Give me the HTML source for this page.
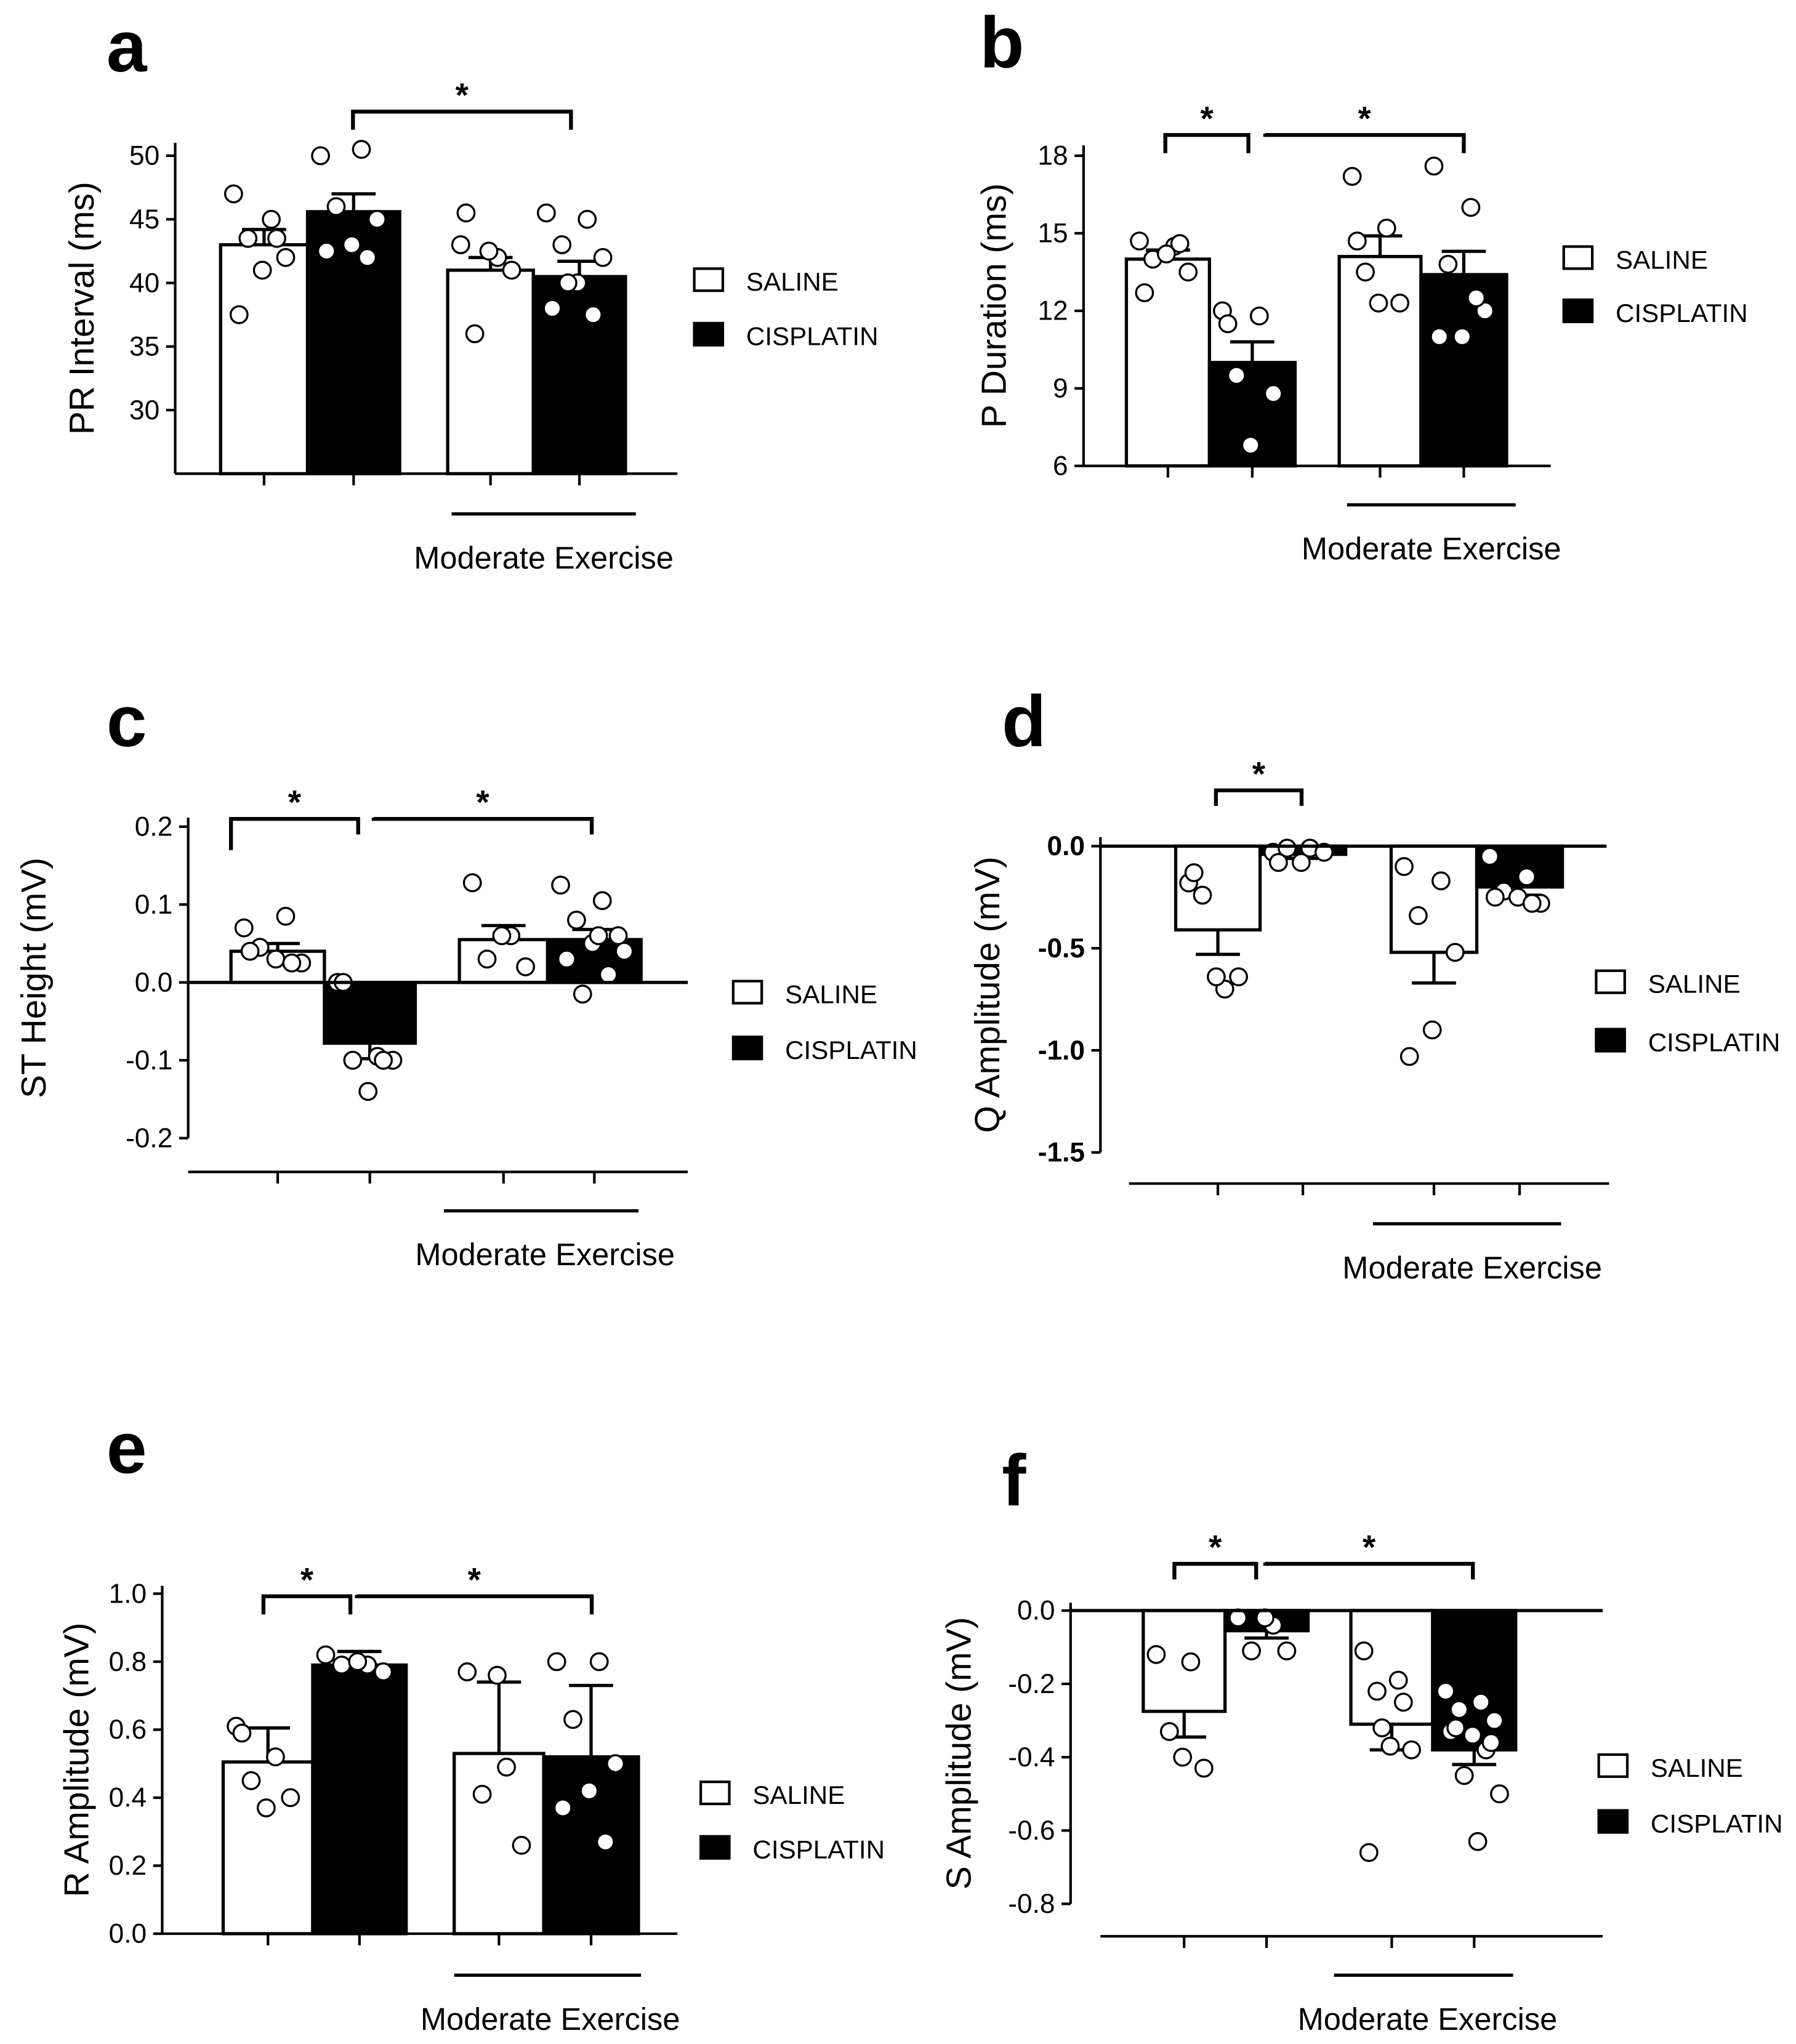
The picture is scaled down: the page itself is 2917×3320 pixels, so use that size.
<!DOCTYPE html>
<html><head><meta charset="utf-8"><style>
html,body{margin:0;padding:0;background:#fff;}
svg{display:block;font-family:"Liberation Sans","DejaVu Sans",sans-serif;}
</style></head><body>
<svg id="fig" width="2917" height="3320" viewBox="0 0 1384 1575" preserveAspectRatio="none" xmlns="http://www.w3.org/2000/svg"></svg>
<script>
// ---- data ----
const groups = ["SALINE","CISPLATIN","ME SALINE","ME CISPLATIN"];
const aMeans = [43, 45.6, 41, 40.5];
const aErr = [1.2, 1.4, 1.0, 1.2];
const aPts = [[47,45,43.5,42,41,37.5,43.5],[50,50.5,46,45,43,42.5,42],[43,42,36,41,42.5,45.5],[45.5,45,43,42,40,38,37.5,40]];
const aTicks = [30,35,40,45,50];
const bMeans = [14, 10, 14.1, 13.4];
const bErr = [0.35, 0.8, 0.8, 0.9];
const bPts = [[14.7,14.5,14,13.5,14.2,12.7,14.6],[12,11.8,9.5,8.8,6.8,11.5],[17.2,15.2,13.5,12.3,12.3,14.7],[17.6,16,13.8,12,11,11,12.5]];
const bTicks = [6,9,12,15,18];
const cMeans = [0.04, -0.078, 0.055, 0.055];
const cErr = [0.01, 0.02, 0.018, 0.013];
const cPts = [[0.07,0.085,0.045,0.025,0.03,0.04,0.025],[0.0,-0.095,-0.1,-0.1,-0.14,0.0,-0.1],[0.128,0.06,0.03,0.02,0.06],[0.125,0.105,0.08,0.06,0.05,0.03,0.01,-0.015,0.04,0.06]];
const cTicks = [-0.2,-0.1,0.0,0.1,0.2];
const dMeans = [-0.41, -0.04, -0.52, -0.2];
const dErr = [0.12, 0.02, 0.15, 0.04];
const dPts = [[-0.18,-0.7,-0.24,-0.64,-0.64,-0.13],[-0.03,-0.01,-0.01,-0.03,-0.08,-0.08],[-0.1,-0.17,-0.34,-0.52,-0.9,-1.03],[-0.05,-0.15,-0.22,-0.28,-0.25,-0.25,-0.28]];
const dTicks = [-1.5,-1.0,-0.5,0.0];
const eMeans = [0.505, 0.79, 0.53, 0.52];
const eErr = [0.1, 0.04, 0.21, 0.21];
const ePts = [[0.61,0.52,0.45,0.4,0.37,0.59],[0.82,0.79,0.79,0.77,0.8],[0.77,0.49,0.41,0.26,0.76],[0.8,0.8,0.63,0.5,0.42,0.37,0.27]];
const eTicks = [0.0,0.2,0.4,0.6,0.8,1.0];
const fMeans = [-0.275, -0.055, -0.31, -0.38];
const fErr = [0.07, 0.02, 0.07, 0.04];
const fPts = [[-0.12,-0.14,-0.33,-0.43,-0.4],[-0.02,-0.04,-0.11,-0.11,-0.02],[-0.11,-0.19,-0.22,-0.38,-0.37,-0.66,-0.25,-0.32],[-0.22,-0.25,-0.27,-0.3,-0.34,-0.33,-0.38,-0.45,-0.5,-0.63,-0.32,-0.36]];
const fTicks = [-0.8,-0.6,-0.4,-0.2,0.0];

const NS="http://www.w3.org/2000/svg";
const svg=document.getElementById('fig');
function mk(tag,attrs,parent,txt){const e=document.createElementNS(NS,tag);for(const k in attrs)e.setAttribute(k,attrs[k]);if(txt!==undefined)e.textContent=txt;(parent||svg).appendChild(e);return e;}

function panel(c){
  const g=mk('g',{});
  
  
  const y=v=>c.y0+(v-c.v0)*(c.y1-c.y0)/(c.v1-c.v0);
  const t=mk('text',{x:c.lx,y:c.ly,'font-size':56,'font-weight':'bold'},g,c.letter);
  
  const ya=mk('line',{x1:c.ax,x2:c.ax,y1:c.axTop,y2:c.axBot,stroke:'#000','stroke-width':2},g);
  
  c.ticks.forEach(v=>{
    mk('line',{x1:c.ax-7,x2:c.ax,y1:y(v),y2:y(v),stroke:'#000','stroke-width':2},g);
    const tl=mk('text',{x:c.ax-12,y:y(v)+7,'font-size':21,'text-anchor':'end','font-weight':c.boldTicks?'bold':'normal'},g,c.fmt(v));
    
  });
  const yt=mk('text',{transform:`translate(${c.ytx},${(c.axTop+c.axBot)/2}) rotate(-90)`,'font-size':27,'text-anchor':'middle'},g,c.ylabel);
  
  const base=c.base!==undefined?y(c.base):c.axBot;
  c.means.forEach((m,i)=>{
    const [xl,xr]=c.bars[i];const ym=y(m);
    const fill=i%2?'#000':'#fff';
    const r=mk('rect',{x:xl,y:Math.min(ym,base),width:xr-xl,height:Math.abs(base-ym),fill:fill,stroke:'#000','stroke-width':2.5},g);
    
    const cx=(xl+xr)/2;
    const positive = c.base===undefined || m>=c.base;
    const ey=positive? y(m+c.err[i]) : y(m-c.err[i]);
    const eb=mk('line',{x1:cx,x2:cx,y1:ym,y2:ey,stroke:'#000','stroke-width':2.5},g);
    
    mk('line',{x1:cx-17,x2:cx+17,y1:ey,y2:ey,stroke:'#000','stroke-width':2.5},g);
    const pts=c.pts[i];const n=pts.length;const w=xr-xl-20;
    pts.forEach((p,k)=>{
      const px=xl+10+(n>1?w*((k*0.618)%1):w/2);
      const ci=mk('circle',{cx:px,cy:y(p),r:6.5,fill:'#fff',stroke:'#000','stroke-width':1.6},g);
      
    });
  });
  if(c.base!==undefined){const zl=mk('line',{x1:c.ax,x2:c.zeroEnd,y1:base,y2:base,stroke:'#000','stroke-width':2.5},g);}
  const xa=mk('line',{x1:c.xaStart,x2:c.xaEnd,y1:c.xaY,y2:c.xaY,stroke:'#000','stroke-width':2},g);
  
  c.bars.forEach(bb=>{const cx=(bb[0]+bb[1])/2;mk('line',{x1:cx,x2:cx,y1:c.xaY,y2:c.xaY+9,stroke:'#000','stroke-width':2},g);});
  const ml=mk('line',{x1:c.me[0],x2:c.me[1],y1:c.me[2],y2:c.me[2],stroke:'#000','stroke-width':2.5},g);
  
  const mt=mk('text',{x:(c.me[0]+c.me[1])/2+c.meShift,y:c.me[2]+42,'font-size':24,'text-anchor':'middle'},g,'Moderate Exercise');
  
  c.brk.forEach(bk=>{
    const [x1,x2,by,d1,d2]=bk;
    const p=mk('path',{d:`M${x1},${by+d1} L${x1},${by} L${x2},${by} L${x2},${by+d2}`,fill:'none',stroke:'#000','stroke-width':3},g);
    
    const s=mk('text',{x:(x1+x2)/2,y:by-4,'font-size':26,'font-weight':'bold','text-anchor':'middle'},g,'*');
    
  });
  [['SALINE','#fff'],['CISPLATIN','#000']].forEach((L,i)=>{
    const ly=c.leg[1]+i*c.legGap;
    const r=mk('rect',{x:c.leg[0],y:ly-9,width:22,height:17,fill:L[1],stroke:'#000','stroke-width':2},g);
    
    const tx=mk('text',{x:c.leg[0]+40,y:ly+8,'font-size':20},g,L[0]);
    
  });
}
const f0=v=>String(v), f1=v=>v.toFixed(1);
panel({letter:'a',lx:82,ly:55,ax:135,axTop:110,axBot:365,v0:50,y0:120,v1:30,y1:316,ticks:aTicks,fmt:f0,ylabel:'PR Interval (ms)',ytx:72,
 means:aMeans,err:aErr,pts:aPts,bars:[[170,237],[237,308],[345,411],[411,482]],xaStart:135,xaEnd:522,xaY:365,
 me:[348,490,396],meShift:0,brk:[[272,440,86,14,14]],leg:[535,216],legGap:42});
panel({letter:'b',lx:755,ly:52,ax:835,axTop:112,axBot:359,v0:18,y0:120,v1:6,y1:359,ticks:bTicks,fmt:f0,ylabel:'P Duration (ms)',ytx:775,
 means:bMeans,err:bErr,pts:bPts,bars:[[868,932],[932,998],[1032,1095],[1095,1161]],xaStart:835,xaEnd:1195,xaY:359,
 me:[1038,1168,389],meShift:0,brk:[[898,962,104,14,14],[975,1128,104,-1,14]],leg:[1205,199],legGap:41});
panel({letter:'c',lx:82,ly:575,ax:145,axTop:630,axBot:877,v0:0.2,y0:637,v1:-0.2,y1:877,ticks:cTicks,fmt:f1,ylabel:'ST Height (mV)',ytx:35,base:0,zeroEnd:530,
 means:cMeans,err:cErr,pts:cPts,bars:[[178,250],[250,320],[354,422],[422,494]],xaStart:145,xaEnd:530,xaY:903,
 me:[342,492,933],meShift:3,brk:[[178,276,631,24,12],[288,456,631,-1,12]],leg:[565,765],legGap:43});
panel({letter:'d',lx:772,ly:575,ax:848,axTop:645,axBot:888,v0:0,y0:652,v1:-1.5,y1:888,ticks:dTicks,fmt:f1,boldTicks:true,ylabel:'Q Amplitude (mV)',ytx:770,base:0,zeroEnd:1238,
 means:dMeans,err:dErr,pts:dPts,bars:[[906,971],[971,1037],[1072,1138],[1138,1204]],xaStart:870,xaEnd:1240,xaY:912,
 me:[1058,1203,943],meShift:4,brk:[[937,1003,609,12,12]],leg:[1230,757],legGap:45});
panel({letter:'e',lx:82,ly:1135,ax:125,axTop:1222,axBot:1490,v0:1.0,y0:1228,v1:0,y1:1490,ticks:eTicks,fmt:f1,ylabel:'R Amplitude (mV)',ytx:68,
 means:eMeans,err:eErr,pts:ePts,bars:[[172,241],[241,313],[350,419],[419,492]],xaStart:125,xaEnd:522,xaY:1490,
 me:[350,494,1522],meShift:2,brk:[[203,270,1230,14,14],[275,456,1230,-1,14]],leg:[540,1382],legGap:42});
panel({letter:'f',lx:772,ly:1160,ax:825,axTop:1235,axBot:1467,v0:0,y0:1241,v1:-0.8,y1:1467,ticks:fTicks,fmt:f1,ylabel:'S Amplitude (mV)',ytx:748,base:0,zeroEnd:1235,
 means:fMeans,err:fErr,pts:fPts,bars:[[881,944],[944,1008],[1041,1104],[1104,1168]],xaStart:848,xaEnd:1235,xaY:1492,
 me:[1028,1166,1522],meShift:3,brk:[[905,968,1205,12,12],[975,1135,1205,-1,12]],leg:[1232,1361],legGap:43});
</script>
</body></html>
